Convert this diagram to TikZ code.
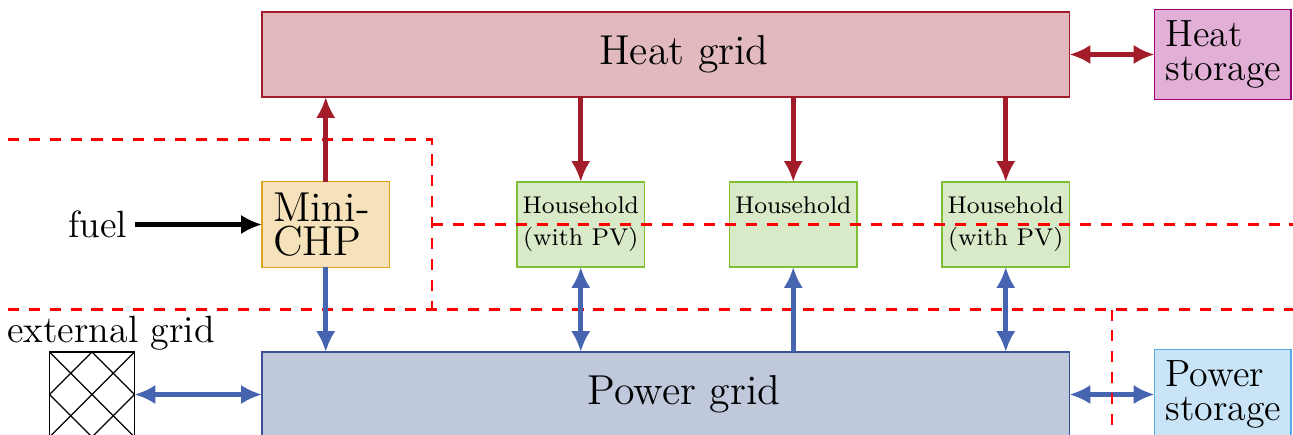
\documentclass[tikz,border=0pt]{standalone}
\usepackage{xcolor}
\usepackage{tikz}
\usetikzlibrary{arrows.meta,positioning,calc}
\definecolor{mgheat}{RGB}{226,186,190}
\definecolor{mgheatd}{RGB}{162,28,42}
\definecolor{mghsto}{RGB}{226,176,214}
\definecolor{mghstod}{RGB}{160,0,122}
\definecolor{mgchp}{RGB}{245,226,186}
\definecolor{mgchpd}{RGB}{224,160,32}
\definecolor{mghh}{RGB}{217,234,200}
\definecolor{mghhd}{RGB}{128,190,52}
\definecolor{mgpow}{RGB}{192,200,220}
\definecolor{mgpowd}{RGB}{58,80,150}
\definecolor{mgpsto}{RGB}{200,228,246}
\definecolor{mgpstod}{RGB}{88,170,228}
\definecolor{mgblue}{RGB}{70,100,175}
\definecolor{mgzone}{RGB}{255,0,0}
\newcommand{\bigtxt}{\fontsize{14}{11.5}\selectfont}
\newcommand{\medtxt}{\fontsize{12.7}{11.4}\selectfont}
\newcommand{\smalltxt}{\fontsize{8.1}{10.7}\selectfont}
\newcommand{\gridtxt}[1]{\hspace*{0.43cm}#1}
\tikzset{
  mgbox/.style={
    draw, line width=0.6pt, minimum height=1cm, inner sep=3.7pt, outer sep=0pt
  },
  heat/.style={mgbox, fill=mgheat, draw=mgheatd, font=\bigtxt},
  pow/.style={mgbox, fill=mgpow, draw=mgpowd, font=\bigtxt},
  chp/.style={
    mgbox, fill=mgchp, draw=mgchpd, font=\bigtxt,
    text width=1.5cm-7.4pt, align=left
  },
  sto/.style={mgbox, font=\medtxt, text width=1.61cm-7.4pt, align=left},
  hsto/.style={sto, fill=mghsto, draw=mghstod},
  psto/.style={sto, fill=mgpsto, draw=mgpstod},
  hh/.style={
    mgbox, fill=mghh, draw=mghhd, font=\smalltxt,
    minimum width=1.5cm, align=center, inner sep=1pt
  },
  ext/.style={
    draw=black, line width=0.6pt, minimum size=1cm, inner sep=0pt, outer sep=0pt,
    path picture={
      \foreach \k in {-1,-0.5,...,2} {
        \draw[line width=0.4pt] ($(path picture bounding box.north west)+(\k,0)$) -- ++(2,-2);
        \draw[line width=0.4pt] ($(path picture bounding box.north west)+(\k,0)$) -- ++(-2,-2);
      }
    }
  },
  lbl/.style={font=\medtxt, inner sep=2.5pt},
  harr/.style={draw=mgheatd, line width=1.8pt},
  parr/.style={draw=mgblue, line width=1.8pt},
  farr/.style={draw=black, line width=1.8pt, ->},
  zone/.style={draw=mgzone, line width=0.7pt, dash pattern=on 3.7pt off 3.3pt}
}

\begin{document}
\begin{tikzpicture}[>={Latex[length=7pt,width=6.5pt]}, node distance=1cm]
  \useasboundingbox (-3.082,-4.476) rectangle (12.129,0.641);

  % grids and storages
  \node[heat, minimum width=9.5cm] (heatgrid) at (4.75,0) {\gridtxt{Heat grid}};
  \node[hsto, right=of heatgrid] (heatsto) {Heat\\storage};
  \node[pow, minimum width=9.5cm] (powgrid) at (4.75,-4) {\gridtxt{Power grid}};
  \node[psto, right=of powgrid] (powsto) {Power\\storage};

  % producers and consumers
  \node[chp] (chp) at (0.75,-2) {Mini-\\CHP};
  \node[hh, right=1.5cm of chp] (hh1) {Household\\(with PV)};
  \node[hh, right=of hh1] (hh2) {Household\\\phantom{(with PV)}};
  \node[hh, right=of hh2] (hh3) {Household\\(with PV)};

  \node[ext] (extgrid) at (-2,-4) {};
  \node[lbl, anchor=base] (extlbl) at (-1.776,-3.394) {external grid};
  \node[lbl] (fuel) at (-1.935,-2) {fuel};

  \draw[parr, <->] (powgrid) -- (powsto);

  % zones
  \draw[zone] (-2.99,-1) -- (2,-1) -- (2,-3);
  \draw[zone] (2,-2) -- (12.2,-2);
  \draw[zone] (-2.99,-3) -- (12.2,-3);
  \draw[zone] (10,-3) -- (10,-4.6);

  % heat flows
  \draw[harr, <->] (heatgrid) -- (heatsto);
  \draw[harr, ->] (chp) -- (chp |- heatgrid.south);
  \draw[harr, ->] (heatgrid.south -| hh1) -- (hh1);
  \draw[harr, ->] (heatgrid.south -| hh2) -- (hh2);
  \draw[harr, ->] (heatgrid.south -| hh3) -- (hh3);

  % power flows
  \draw[farr] (fuel) -- (chp);
  \draw[parr, ->] (chp) -- (chp |- powgrid.north);
  \draw[parr, <->] (hh1) -- (hh1 |- powgrid.north);
  \draw[parr, ->] (hh2 |- powgrid.north) -- (hh2);
  \draw[parr, <->] (hh3) -- (hh3 |- powgrid.north);
  \draw[parr, <->] (extgrid) -- (powgrid);
\end{tikzpicture}
\end{document}
